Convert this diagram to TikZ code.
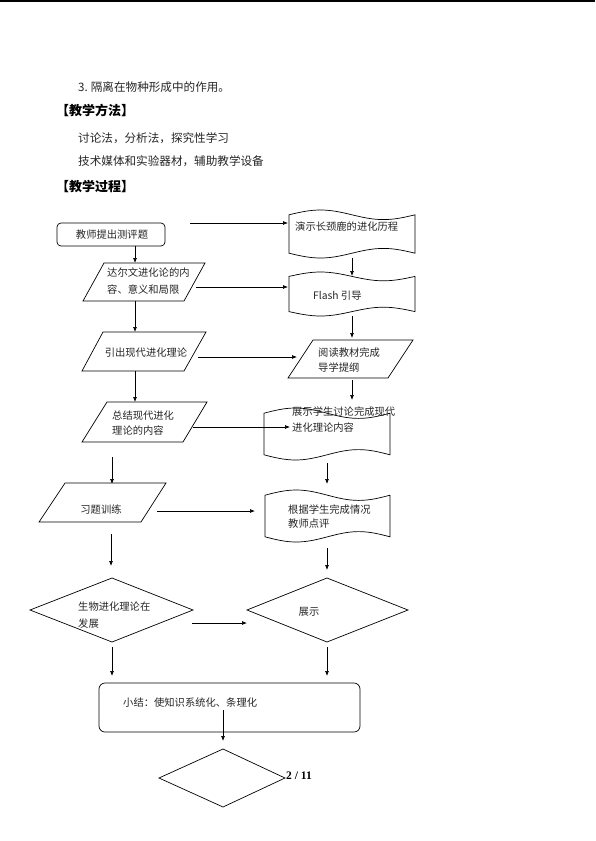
\documentclass[tikz,border=0pt]{standalone}
\usepackage{fontspec}
\newfontfamily\cjk{Noto Sans CJK SC}
\newfontfamily\tnr{Liberation Serif}
\usetikzlibrary{arrows.meta}
\newcommand{\tapebox}[4]{%
  \draw[shape line] ({#1},{#2+0.1*(#4-#2)})
    sin ({#1+0.25*(#3-#1)},{#2})
    cos ({#1+0.5*(#3-#1)},{#2+0.1*(#4-#2)})
    sin ({#1+0.75*(#3-#1)},{#2+0.2*(#4-#2)})
    cos ({#3},{#2+0.1*(#4-#2)})
    -- ({#3},{#4-0.1*(#4-#2)})
    sin ({#1+0.75*(#3-#1)},{#4-0.2*(#4-#2)})
    cos ({#1+0.5*(#3-#1)},{#4-0.1*(#4-#2)})
    sin ({#1+0.25*(#3-#1)},{#4})
    cos ({#1},{#4-0.1*(#4-#2)}) -- cycle;}
\tikzset{
  shape line/.style={draw=black, line width=0.7pt},
  conn/.style={draw=black, line width=0.7pt, -{Latex[length=5pt,width=4pt]}},
  bodytxt/.style={inner sep=0, anchor=west, text=black!85, font=\cjk\fontsize{11.6}{14}\selectfont},
  headtxt/.style={inner sep=0, anchor=west, text=black, font=\cjk\bfseries\fontsize{13}{15}\selectfont},
  boxtxt/.style={inner sep=0, anchor=west, text=black!85, font=\cjk\fontsize{10.3}{12}\selectfont},
}
\begin{document}
\begin{tikzpicture}[x=1pt,y=-1pt]
\useasboundingbox (0,0) rectangle (595,841);
\fill[white] (0,0) rectangle (595,841);
\draw[line width=1.5pt] (0,0.75) -- (595,0.75);

% header texts
\node[bodytxt] (t1) at (78,87) {3.\hspace{3pt}隔离在物种形成中的作用。};
\node[headtxt] (h1) at (56,110) {【教学方法】};
\node[bodytxt] (t2) at (78,138) {讨论法，分析法，探究性学习};
\node[bodytxt] (t3) at (78,161) {技术媒体和实验器材，辅助教学设备};
\node[headtxt] (h2) at (56,187) {【教学过程】};

% ---- left column shapes
\draw[shape line, rounded corners=4pt] (57,223) rectangle (165,246);
\node[boxtxt, anchor=center] (r1) at (112,235) {教师提出测评题};

\draw[shape line] (104,263) -- (205,263) -- (184,301) -- (83,301) -- cycle;
\node[boxtxt] (p1a) at (107,273) {达尔文进化论的内};
\node[boxtxt] (p1b) at (107,290) {容、意义和局限};

\draw[shape line] (103,332) -- (206,332) -- (184,371) -- (82,371) -- cycle;
\node[boxtxt, anchor=center] (p2) at (146,353) {引出现代进化理论};

\draw[shape line] (107,402) -- (207,402) -- (183,442) -- (82,442) -- cycle;
\node[boxtxt] (p3a) at (112,416) {总结现代进化};
\node[boxtxt] (p3b) at (112,431) {理论的内容};

\draw[shape line] (65,483) -- (166,483) -- (141,522) -- (39,522) -- cycle;
\node[boxtxt, anchor=center] (p4) at (101,510) {习题训练};

\draw[shape line] (30,610) -- (112,578) -- (193,610) -- (112,642) -- cycle;
\node[boxtxt] (d1a) at (78,607) {生物进化理论在};
\node[boxtxt] (d1b) at (78,624) {发展};

\draw[shape line, rounded corners=6pt] (99,683) rectangle (360,732);
\node[boxtxt] (r2) at (123,703) {小结：使知识系统化、条理化};

\draw[shape line] (159,778) -- (223,749) -- (285,778) -- (223,807) -- cycle;
\node[inner sep=0, anchor=west, font=\tnr\bfseries\fontsize{11.5}{13}\selectfont] (pg) at (286,776) {2 / 11};

% ---- right column shapes
\tapebox{289}{210}{415}{258}
\node[boxtxt] (s1) at (295,227) {演示长颈鹿的进化历程};
\tapebox{289}{272}{415}{316}
\node[boxtxt] (s2) at (313,296) {Flash 引导};
\draw[shape line] (313,340) -- (413,340) -- (388,378) -- (288,378) -- cycle;
\node[boxtxt] (s3a) at (318,353) {阅读教材完成};
\node[boxtxt] (s3b) at (318,368) {导学提纲};
\tapebox{264}{408}{390}{460}
\node[boxtxt] (s4a) at (292,412) {展示学生讨论完成现代};
\node[boxtxt] (s4b) at (292,428) {进化理论内容};
\tapebox{265}{490}{390}{542}
\node[boxtxt] (s5a) at (288,510) {根据学生完成情况};
\node[boxtxt] (s5b) at (288,524) {教师点评};
\draw[shape line] (247,610) -- (327,578) -- (408,610) -- (327,642) -- cycle;
\node[boxtxt, anchor=center] (s6) at (309,612) {展示};

% ---- connector end points
\coordinate (a0s) at (190,223); \coordinate (a0e) at (288,223);
\coordinate (a1s) at (135,246); \coordinate (a1e) at (135,263);
\coordinate (a2s) at (196,287); \coordinate (a2e) at (288,287);
\coordinate (a3s) at (135,301); \coordinate (a3e) at (135,332);
\coordinate (a4s) at (198,357); \coordinate (a4e) at (297,357);
\coordinate (a5s) at (135,371); \coordinate (a5e) at (135,402);
\coordinate (a6s) at (193,427); \coordinate (a6e) at (290,427);
\coordinate (a7s) at (112,457); \coordinate (a7e) at (112,484);
\coordinate (a8s) at (157,511); \coordinate (a8e) at (255,511);
\coordinate (a9s) at (111,534); \coordinate (a9e) at (111,566);
\coordinate (a10s) at (192,623); \coordinate (a10e) at (247,623);
\coordinate (a11s) at (112,647); \coordinate (a11e) at (112,676);
\coordinate (a12s) at (223,710); \coordinate (a12e) at (223,741);
\coordinate (b1s) at (352,258); \coordinate (b1e) at (352,276);
\coordinate (b2s) at (352,316); \coordinate (b2e) at (352,338);
\coordinate (b3s) at (352,380); \coordinate (b3e) at (352,400);
\coordinate (b4s) at (327,463); \coordinate (b4e) at (327,484);
\coordinate (b5s) at (327,548); \coordinate (b5e) at (327,570);
\coordinate (b6s) at (327,647); \coordinate (b6e) at (327,676);

\foreach \c in {a0,a1,a2,a3,a4,a5,a6,a7,a8,a9,a10,a11,a12,b1,b2,b3,b4,b5,b6}
  \draw[conn] (\c s) -- (\c e);
\end{tikzpicture}
\end{document}
